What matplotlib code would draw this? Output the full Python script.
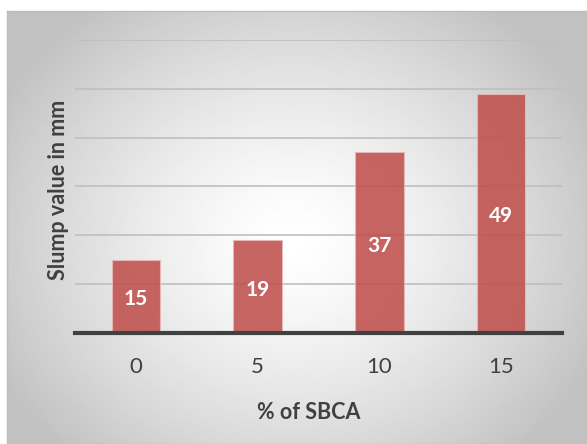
import matplotlib.pyplot as plt
import numpy as np

# Data
sbca_percent = ["0", "5", "10", "15"]
slump_mm = [15, 19, 37, 49]

plt.rcParams["font.family"] = ["Lato", "DejaVu Sans"]

fig = plt.figure(figsize=(5.87, 4.44), dpi=100)

# Radial gradient background panel
bg = fig.add_axes([7 / 587, 0, 580 / 587, 433 / 444], zorder=0)
yy, xx = np.mgrid[0:433, 0:580]
r = np.sqrt(((xx - 285) / 330) ** 2 + ((yy - 230) / 290) ** 2)
shade = np.clip(1.0 - 0.24 * r ** 1.4, 0.76, 1.0)
bg.imshow(shade, cmap="gray", vmin=0, vmax=1, aspect="auto", interpolation="bilinear")
bg.set_xticks([])
bg.set_yticks([])
for s in bg.spines.values():
    s.set_color("#BDBDBD")
    s.set_linewidth(1)

# Plot area
ax = fig.add_axes([75 / 587, (444 - 333) / 444, 487 / 587, 293 / 444], zorder=1)
ax.patch.set_alpha(0)
x = np.arange(len(slump_mm))
bars = ax.bar(x, slump_mm, width=0.4, color="#C0504D", alpha=0.88,
              edgecolor="#E8B9B8", linewidth=0.8, zorder=2)
ax.set_xlim(-0.5, len(slump_mm) - 0.5)
ax.set_ylim(0, 60)
ax.set_yticks(np.arange(10, 61, 10))
ax.yaxis.grid(True, color="#BFBFBF", linewidth=1.2, zorder=1)
ax.set_axisbelow(True)
ax.tick_params(axis="y", length=0, labelleft=False)
ax.set_xticks(x)
ax.set_xticklabels(sbca_percent, fontsize=16, color="#404040")
ax.tick_params(axis="x", length=0, pad=17)
for side in ["top", "right", "left"]:
    ax.spines[side].set_visible(False)
ax.spines["bottom"].set_color("#404040")
ax.spines["bottom"].set_linewidth(3)
ax.spines["bottom"].set_zorder(3)

for b, v in zip(bars, slump_mm):
    ax.text(b.get_x() + b.get_width() / 2, v / 2 - 0.6, str(v), ha="center", va="center",
            color="white", fontsize=15, fontweight="bold", zorder=4)

ax.set_xlabel("% of SBCA", fontsize=15.5, fontweight="bold", color="#404040")
ax.xaxis.set_label_coords(0.48, -0.235)
ax.set_ylabel("Slump value in mm", fontsize=15.5, fontweight="bold", color="#404040")
ax.yaxis.set_label_coords(-0.012, 0.49)

fig.savefig("out.png", dpi=100)
